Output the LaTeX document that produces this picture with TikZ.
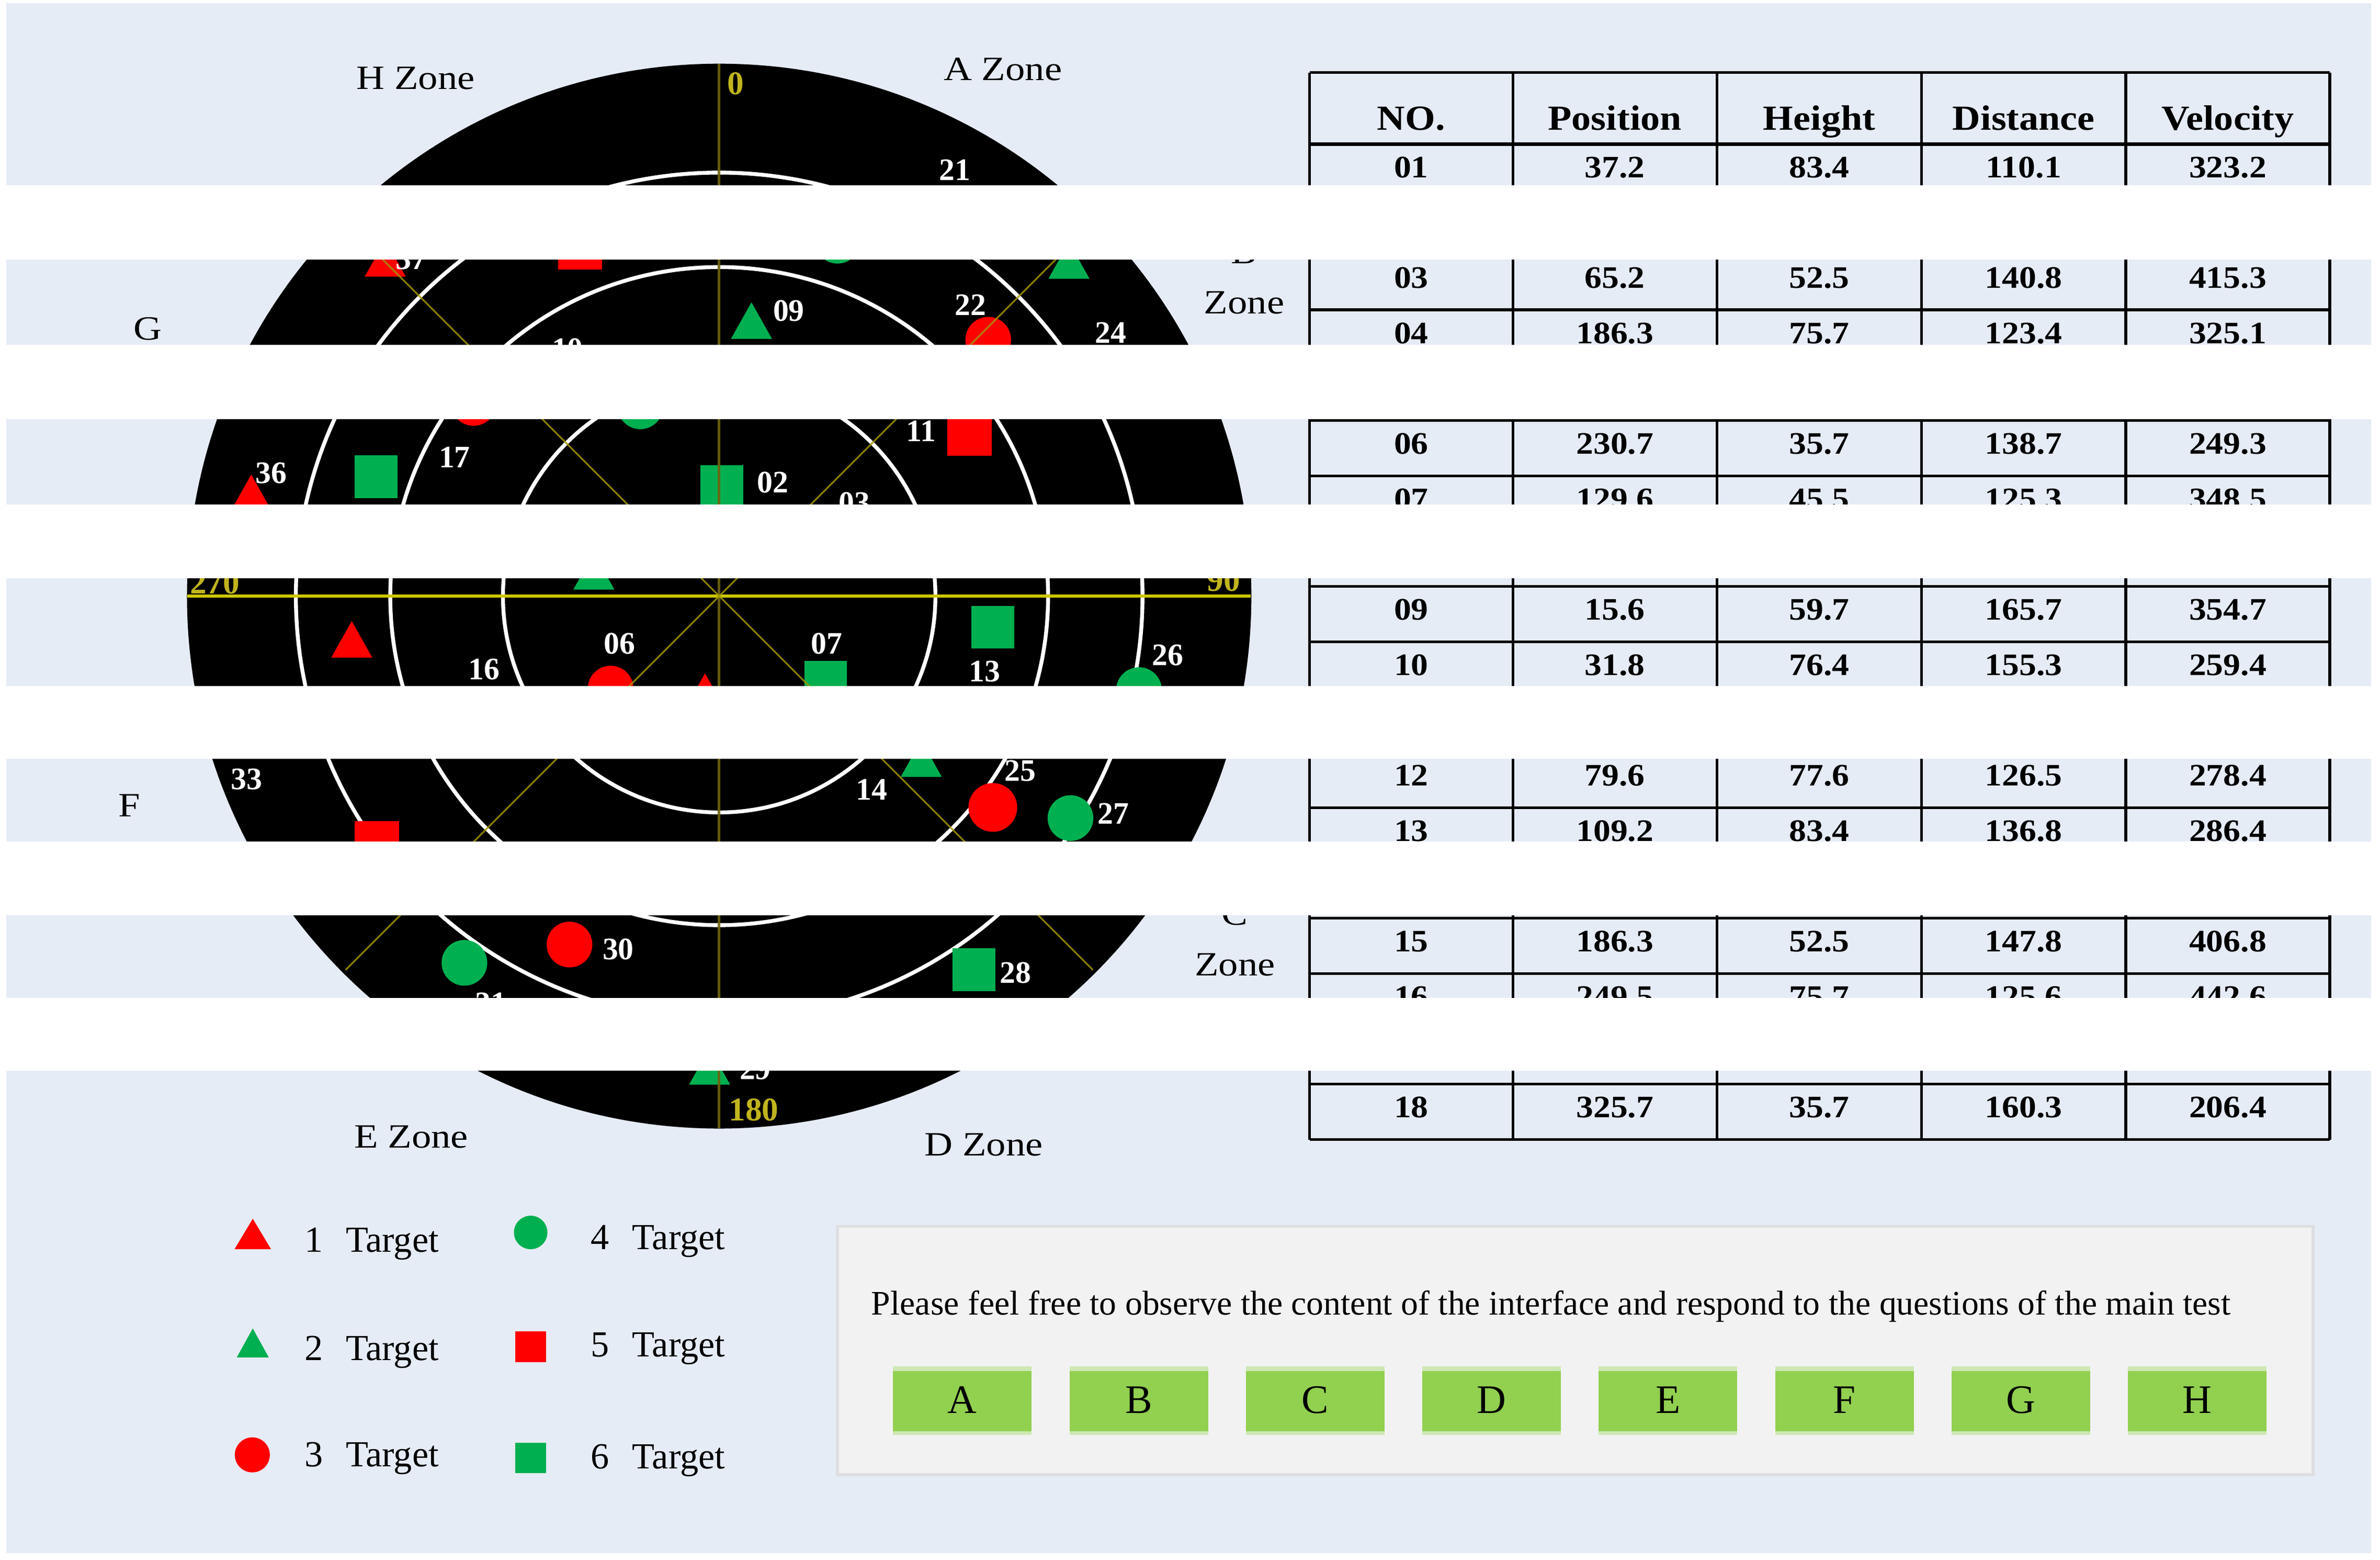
\documentclass[tikz,border=0pt]{standalone}
\usepackage{fontspec}
\setmainfont{Liberation Serif}
\usepackage{graphicx}
\definecolor{bgblue}{RGB}{230,236,246}
\definecolor{tred}{RGB}{255,0,0}
\definecolor{tgreen}{RGB}{0,176,80}
\definecolor{ylw}{RGB}{205,200,0}
\definecolor{olivel}{RGB}{160,150,0}
\definecolor{olived}{RGB}{110,100,15}
\definecolor{degcol}{RGB}{192,180,30}
\definecolor{panelgray}{RGB}{242,242,242}
\definecolor{panelline}{RGB}{222,222,226}
\definecolor{btngreen}{RGB}{146,208,80}
\definecolor{btnfringe}{RGB}{205,232,178}
\newcommand\xs[2]{\scalebox{#1}[1]{#2}}
\newcommand\TriR[2]{\fill[tred] ({#1-13.5},{#2+12}) -- ({#1+13.5},{#2+12}) -- ({#1},{#2-12}) -- cycle;}
\newcommand\TriG[2]{\fill[tgreen] ({#1-13.5},{#2+12}) -- ({#1+13.5},{#2+12}) -- ({#1},{#2-12}) -- cycle;}
\newcommand\DotR[2]{\fill[tred] (#1,#2) circle[radius=15];}
\newcommand\DotG[2]{\fill[tgreen] (#1,#2) circle[radius=15];}
\newcommand\SqR[2]{\fill[tred] ({#1-14.5},{#2-14.5}) rectangle ({#1+14.5},{#2+14.5});}
\newcommand\SqG[2]{\fill[tgreen] ({#1-14},{#2-14}) rectangle ({#1+14},{#2+14});}
\begin{document}
\begin{tikzpicture}[x=0.029111cm,y=-0.029111cm,
  zonelbl/.style={inner sep=0pt, anchor=base, font=\fontsize{18.5}{22}\selectfont},
  radlbl/.style={inner sep=0pt, text=white, font=\fontsize{17}{20}\selectfont\bfseries},
  deglbl/.style={inner sep=0pt, text=degcol, font=\fontsize{18}{22}\selectfont\bfseries},
  thead/.style={inner sep=0pt, anchor=base, font=\fontsize{19.2}{22}\selectfont\bfseries},
  tcell/.style={inner sep=0pt, anchor=base, font=\fontsize{17}{20}\selectfont\bfseries},
  legtxt/.style={inner sep=0pt, anchor=base, font=\fontsize{20}{24}\selectfont},
  ptxt/.style={inner sep=0pt, anchor=base west, font=\fontsize{18.7}{22}\selectfont},
  btntxt/.style={inner sep=0pt, anchor=base, font=\fontsize{22}{26}\selectfont},
  tline/.style={line width=1.5pt, black},
  ring/.style={white, line width=2.1pt}]
\useasboundingbox (0,0) rectangle (1563,1023.7);
% background
\fill[white] (0,0) rectangle (1563,1023.7);
\fill[bgblue] (4,2) rectangle (1557,1019.5);
% radar
\coordinate (c) at (472.3,391.3);
\fill[black] (c) circle[radius=349.5];
\draw[ring] (c) circle[radius=142];
\draw[ring] (c) circle[radius=216];
\draw[ring] (c) circle[radius=278];
% targets
\TriR{253}{169.6}\TriR{165}{323.5}\TriR{231}{419.7}\TriR{463}{454}
\TriG{493.5}{210.5}\TriG{702}{171}\TriG{390}{375}\TriG{605}{498}\TriG{466}{700}
\DotR{649}{223}\DotR{311}{264.5}\DotR{401}{452}\DotR{374}{620}
\fill[tred] (652,530) circle[radius=16];
\DotG{420.5}{266.7}\DotG{748}{453}\DotG{703}{537}\DotG{305}{632}\DotG{550}{158}
\SqR{381}{162.5}\SqR{636.7}{284.7}\SqR{247.5}{553.5}
\SqG{247}{313}\SqG{474}{319.5}\SqG{542.3}{448}\SqG{652}{411.7}\SqG{639.6}{636.5}
% axis lines
\draw[olived, line width=1.4pt, opacity=0.9] (472.3,42) -- (472.3,740.5);
\draw[ylw, line width=1.9pt] (123,391.3) -- (821.5,391.3);
\draw[olivel, line width=0.9pt, opacity=0.85] (226.9,145.9) -- (717.7,636.7);
\draw[olivel, line width=0.9pt, opacity=0.85] (717.7,145.9) -- (226.9,636.7);
% degree labels
\node[deglbl] (d0) at (483,55) {0};
\node[deglbl] (d90) at (803.5,381) {90};
\node[deglbl] (d270) at (141,382.5) {270};
\node[deglbl] (d180) at (495,728.5) {180};
% radar labels
\foreach \nm/\px/\py in {21/627/111.4, 37/270/170, 09/518/204, 22/637.5/200, 24/729.4/218.5,
  10/372.7/229, 17/298.5/300, 36/178/310.5, 02/507.5/316.6, 11/605/283, 03/561/330,
  16/318/439.5, 06/407/422.4, 07/543/422.4, 13/646.5/440.7, 26/767/430, 33/162/511.6,
  14/572.5/518.4, 25/670/506, 27/731/534, 30/406/623, 28/667/638.6, 31/322.5/658.5, 29/496/701.7}
  {\node[radlbl] (lb\nm) at (\px,\py) {\nm};}
% zone labels
\node[zonelbl] (zH) at (273,58.4) {\xs{1.15}{H Zone}};
\node[zonelbl] (zA) at (658.6,52.8) {\xs{1.15}{A Zone}};
\node[zonelbl] (zB1) at (817,173) {\xs{1.15}{B}};
\node[zonelbl] (zB2) at (817,206) {\xs{1.15}{Zone}};
\node[zonelbl] (zC1) at (811,607) {\xs{1.15}{C}};
\node[zonelbl] (zC2) at (811,640.5) {\xs{1.15}{Zone}};
\node[zonelbl] (zD) at (646,758.5) {\xs{1.15}{D Zone}};
\node[zonelbl] (zE) at (270,753.6) {\xs{1.15}{E Zone}};
\node[zonelbl] (zF1) at (85,536) {\xs{1.15}{F}};
\node[zonelbl] (zF2) at (85,569) {\xs{1.15}{Zone}};
\node[zonelbl] (zG1) at (97,223) {\xs{1.15}{G}};
\node[zonelbl] (zG2) at (97,256) {\xs{1.15}{Zone}};
% table
\foreach \xx in {860,993.5,1127.5,1262,1396,1530} \draw[tline] (\xx,47.6) -- (\xx,748);
\draw[tline] (860,47.6) -- (1530,47.6);
\draw[black, line width=2pt] (860,94.5) -- (1530,94.5);
\foreach \k in {1,...,18} \draw[tline] (860,{94.5+\k*36.3}) -- (1530,{94.5+\k*36.3});
\node[thead] (hno) at (926.75,85.5) {\xs{1.1}{NO.}};
\node[thead] (hpos) at (1060.5,85.5) {\xs{1.1}{Position}};
\node[thead] (hhei) at (1194.75,85.5) {\xs{1.1}{Height}};
\node[thead] (hdis) at (1329,85.5) {\xs{1.1}{Distance}};
\node[thead] (hvel) at (1463,85.5) {\xs{1.1}{Velocity}};
\foreach \rr/\nn/\va/\vb/\vcc/\vd in {1/01/37.2/83.4/110.1/323.2, 3/03/65.2/52.5/140.8/415.3,
  4/04/186.3/75.7/123.4/325.1, 6/06/230.7/35.7/138.7/249.3, 7/07/129.6/45.5/125.3/348.5,
  9/09/15.6/59.7/165.7/354.7, 10/10/31.8/76.4/155.3/259.4, 12/12/79.6/77.6/126.5/278.4,
  13/13/109.2/83.4/136.8/286.4, 15/15/186.3/52.5/147.8/406.8, 16/16/249.5/75.7/125.6/442.6,
  18/18/325.7/35.7/160.3/206.4}{
  \pgfmathsetmacro\yb{94.5+(\rr-1)*36.3+22}
  \node[tcell] (tn\nn) at (926.75,\yb) {\xs{1.1}{\nn}};
  \node[tcell] (tp\nn) at (1060.5,\yb) {\xs{1.1}{\va}};
  \node[tcell] (th\nn) at (1194.75,\yb) {\xs{1.1}{\vb}};
  \node[tcell] (td\nn) at (1329,\yb) {\xs{1.1}{\vcc}};
  \node[tcell] (tv\nn) at (1463,\yb) {\xs{1.1}{\vd}};
}
% legend
\fill[tred] (154,820) -- (178,820) -- (166,800) -- cycle;
\fill[tgreen] (155.5,891) -- (176.5,891) -- (166,872) -- cycle;
\fill[tred] (165.7,955) circle[radius=11.5];
\fill[tgreen] (348.5,809) circle[radius=11];
\fill[tred] (338.5,874) rectangle (358.5,894);
\fill[tgreen] (338.5,947) rectangle (358.5,967);
\node[legtxt] (l1n) at (206,821.7) {1};
\node[legtxt, anchor=base west] (l1t) at (227,821.7) {Target};
\node[legtxt] (l2n) at (206,893) {2};
\node[legtxt, anchor=base west] (l2t) at (227,893) {Target};
\node[legtxt] (l3n) at (206,962.7) {3};
\node[legtxt, anchor=base west] (l3t) at (227,962.7) {Target};
\node[legtxt] (l4n) at (394,820) {4};
\node[legtxt, anchor=base west] (l4t) at (415,820) {Target};
\node[legtxt] (l5n) at (394,890.7) {5};
\node[legtxt, anchor=base west] (l5t) at (415,890.7) {Target};
\node[legtxt] (l6n) at (394,964) {6};
\node[legtxt, anchor=base west] (l6t) at (415,964) {Target};
% panel
\draw[panelline, fill=panelgray, line width=1.6pt] (550,805) rectangle (1519,968);
\node[ptxt] (ptext) at (572,863) {Please feel free to observe the content of the interface and respond to the questions of the main test};
\foreach \L [count=\k from 0] in {A,B,C,D,E,F,G,H}{
  \pgfmathsetmacro\cx{632+115.85*\k}
  \fill[btnfringe] ({\cx-45.5},897) rectangle ({\cx+45.5},942);
  \fill[btngreen] ({\cx-45.5},900) rectangle ({\cx+45.5},939.5);
  \node[btntxt] (b\L) at (\cx,927.5) {\L};
}
% white bands
\foreach \ya/\yb in {121.6/170.4, 226.4/275.3, 331.2/379.5, 450.2/498, 552.4/600.9, 655/702.9}
  \fill[white] (0,\ya) rectangle (1563,\yb);
\end{tikzpicture}
\end{document}
